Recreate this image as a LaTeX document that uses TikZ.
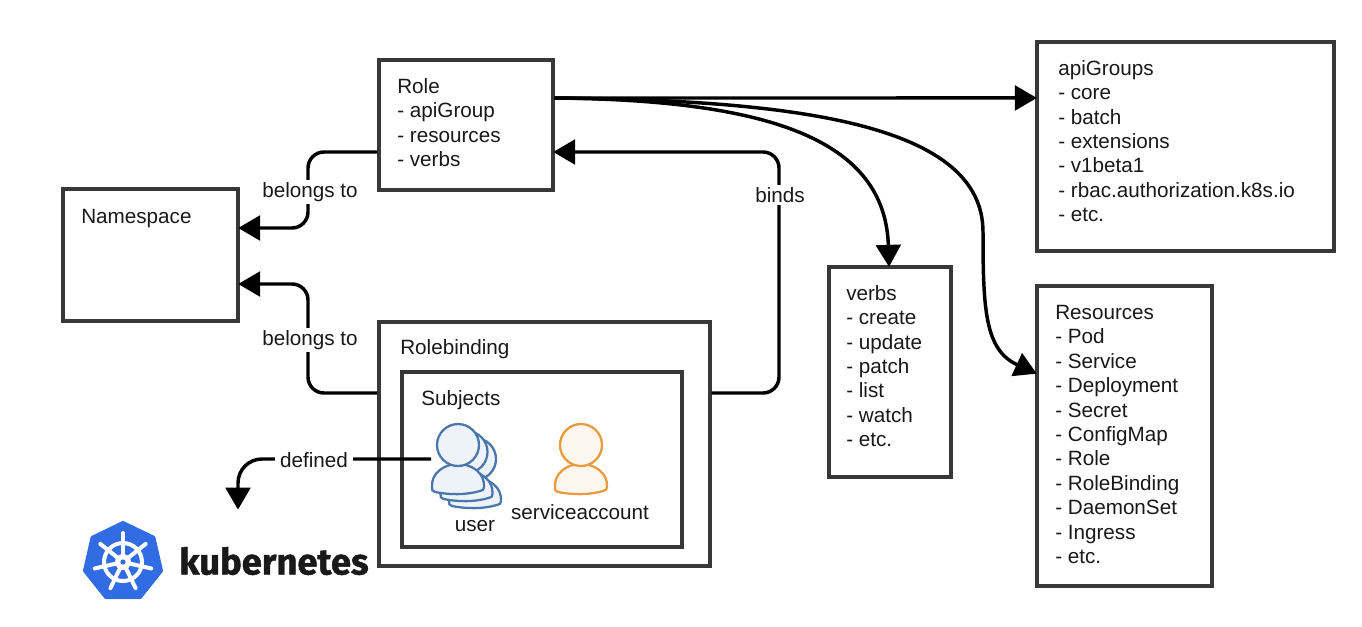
\documentclass[tikz,border=0pt]{standalone}
\usepackage{fontspec}
\setmainfont{Liberation Sans}
\newfontfamily\kubefont{Fira Sans}[BoldFont={Fira Sans Bold},BoldFeatures={FakeBold=1.2}]
\usetikzlibrary{arrows.meta,calc}
\definecolor{boxline}{HTML}{383838}
\definecolor{userline}{HTML}{4A76AC}
\definecolor{userfill}{HTML}{EEF3FA}
\definecolor{saline}{HTML}{E99A3C}
\definecolor{safill}{HTML}{FDF7F0}
\definecolor{kubeblue}{HTML}{326CE5}
\tikzset{
  boxnode/.style={draw=boxline,line width=2.6pt,fill=white,inner sep=0pt,minimum width=#1},
  txt/.style={font=\fontsize{15.5}{18.3}\selectfont,align=left,inner sep=0pt,anchor=north west,text=black!90},
  lbl/.style={font=\fontsize{15.5}{18.3}\selectfont,fill=white,inner sep=2pt,text=black!90},
  conn/.style={draw=black,line width=2.6pt,rounded corners=12pt,shorten >=-1.2pt,-{Triangle[length=16.5pt,width=18.5pt]}},
  person/.pic={
    \path[pic actions] (-26,42) .. controls (-27,28) and (-14,19) .. (0,19)
       .. controls (14,19) and (27,28) .. (26,42)
       .. controls (26,45) and (25,45) .. (22,46)
       .. controls (8,50) and (-8,50) .. (-23,47)
       .. controls (-26,46) and (-26,45) .. (-26,42) -- cycle;
    \path[pic actions] (0,0) circle (21);
  },
  userstyle/.style={draw=userline,fill=userfill,line width=1.7pt},
  sastyle/.style={draw=saline,fill=safill,line width=1.7pt},
}
\begin{document}
\begin{tikzpicture}[x=0.75pt,y=-0.75pt]
\useasboundingbox (0,0) rectangle (1362,626);
% boxes
\node[boxnode=130.5pt,minimum height=97.5pt] (role) at (466,125) {};
\node[boxnode=222.75pt,minimum height=156.75pt] (api) at (1185.5,146.5) {};
\node[boxnode=131.25pt,minimum height=99pt] (ns) at (150.5,255) {};
\node[boxnode=91.5pt,minimum height=157.5pt] (verbs) at (890,372) {};
\node[boxnode=131.25pt,minimum height=225pt] (res) at (1124.5,436) {};
\node[boxnode=248.25pt,minimum height=183pt] (rb) at (544.5,444) {};
\node[boxnode=210pt,minimum height=131.25pt] (subj) at (542,459.5) {};
% texts
\node[txt] (roleT) at (397,78) {Role\\- apiGroup\\- resources\\- verbs};
\node[txt] (apiT) at (1058,60) {apiGroups\\- core\\- batch\\- extensions\\- v1beta1\\- rbac.authorization.k8s.io\\- etc.};
\node[txt] (nsT) at (81,209) {Namespace};
\node[txt] (verbsT) at (846,285) {verbs\\- create\\- update\\- patch\\- list\\- watch\\- etc.};
\node[txt] (resT) at (1055,305) {Resources\\- Pod\\- Service\\- Deployment\\- Secret\\- ConfigMap\\- Role\\- RoleBinding\\- DaemonSet\\- Ingress\\- etc.};
\node[txt] (rbT) at (400,339) {Rolebinding};
\node[txt] (subjT) at (421,390) {Subjects};
% people
\pic[userstyle] at (475,459) {person};
\pic[userstyle] at (466.5,452) {person};
\pic[userstyle] at (458,445) {person};
\pic[sastyle] at (581,445) {person};
\node[lbl,fill=none,inner sep=0pt] (userL) at (475,526) {user};
\node[lbl,fill=none,inner sep=0pt] (saL) at (580,512) {serviceaccount};
% connectors
\coordinate (userEnd) at (431,459);
\coordinate (definedEnd) at (238,508);
\draw[conn] ([yshift=-20.25pt]role.west) -| (308,190) |- ([yshift=20.25pt]ns.east);
\draw[conn] ([yshift=38.25pt]rb.west) -| (308,338) |- ([yshift=-21.75pt]ns.east);
\draw[conn] ([yshift=38.25pt]rb.east) -| (779,194) |- ([yshift=-20.25pt]role.east);
\draw[conn,rounded corners=18pt] (userEnd) -| (definedEnd);
\draw[conn] ([yshift=20.25pt]role.east) -- ([yshift=36.4pt]api.west);
\draw[conn,rounded corners=0pt] ([yshift=20.25pt]role.east) .. controls (770,100) and (885,140) .. ([xshift=-0.75pt]verbs.north);
\draw[conn,rounded corners=0pt] ([yshift=20.25pt]role.east) .. controls (800,100) and (983,125) .. (983,232)
   .. controls (983,310) and (985,350) .. ([yshift=47.25pt]res.west);
\node[lbl] (b1) at (310,192) {belongs to};
\node[lbl] (b2) at (310,340) {belongs to};
\node[lbl] (binds) at (780,195) {binds};
\node[lbl,inner xsep=4pt] (def) at (314,460) {defined};
% logo
\begin{scope}[shift={(123,562)},x=0.75pt,y=0.75pt]
  \fill[kubeblue,draw=kubeblue,line width=3pt,line join=round] (90:39) -- (90+360/7:39) -- (90+720/7:39) -- (90+1080/7:39) -- (90+1440/7:39) -- (90+1800/7:39) -- (90+2160/7:39) -- cycle;
  \draw[white,line width=3pt] (0,0) circle (19);
  \foreach \k in {0,...,6} {
    \draw[white,line width=3pt,line cap=round] (0,0) -- (90+\k*360/7:29);
  }
  \fill[white] (0,0) circle (8);
  \fill[kubeblue] (0,0) circle (2.6);
\end{scope}
\node[font=\kubefont\bfseries\fontsize{27.3}{29}\selectfont,inner sep=0pt,text=black!90] (kube) at (274,561) {kubernetes};
\end{tikzpicture}
\end{document}
